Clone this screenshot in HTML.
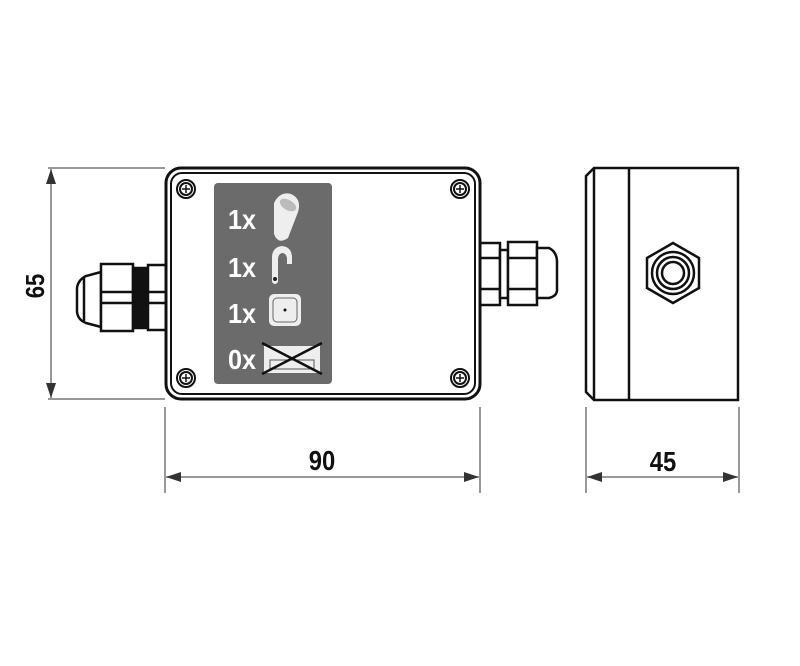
<!DOCTYPE html>
<html><head><style>
html,body{margin:0;padding:0;background:#fff;}
svg{display:block;}
text{font-family:"Liberation Sans",sans-serif;font-weight:bold;}
</style></head><body>
<svg width="800" height="666" viewBox="0 0 800 666" xmlns="http://www.w3.org/2000/svg">
<defs>
<marker id="a" viewBox="0 0 10 10" refX="10" refY="5" markerWidth="15" markerHeight="10" markerUnits="userSpaceOnUse" orient="auto-start-reverse" preserveAspectRatio="none"><path d="M0,0 L10,5 L0,10z" fill="#333"/></marker>
</defs>
<g stroke="#777" stroke-width="1.5" fill="none">
<line x1="48" y1="168" x2="165" y2="168"/>
<line x1="48" y1="399" x2="165" y2="399"/>
<line x1="165" y1="407" x2="165" y2="493"/>
<line x1="480" y1="407" x2="480" y2="493"/>
<line x1="586" y1="407" x2="586" y2="493"/>
<line x1="739" y1="407" x2="739" y2="493"/>
</g>
<g stroke="#777" stroke-width="1.5">
<line x1="51" y1="169" x2="51" y2="398" marker-start="url(#a)" marker-end="url(#a)"/>
<line x1="166" y1="477" x2="479" y2="477" marker-start="url(#a)" marker-end="url(#a)"/>
<line x1="587" y1="477" x2="738" y2="477" marker-start="url(#a)" marker-end="url(#a)"/>
</g>
<text x="0" y="0" font-size="26" fill="#111" transform="translate(44,286) rotate(-90) scale(0.85,1)" text-anchor="middle">65</text>
<text x="0" y="0" font-size="28" fill="#111" transform="translate(322,470) scale(0.85,1)" text-anchor="middle">90</text>
<text x="0" y="0" font-size="28" fill="#111" transform="translate(663,471) scale(0.85,1)" text-anchor="middle">45</text>

<g stroke="#111" stroke-width="2.5" fill="#fff">
<path d="M101,272 L86,276 Q78,280 77,288 L77,312 Q78,320 86,323 L101,327z"/>
<line x1="84" y1="278" x2="84" y2="321"/>
<rect x="101" y="264" width="32" height="67"/>
<line x1="101" y1="292" x2="133" y2="292"/><line x1="101" y1="303" x2="133" y2="303"/>
<rect x="133" y="268" width="15" height="60" fill="#111"/>
<rect x="148" y="265" width="18" height="65"/>
<line x1="148" y1="292" x2="166" y2="292"/><line x1="148" y1="303" x2="166" y2="303"/>
</g>
<g stroke="#111" stroke-width="2.5" fill="#fff">
<rect x="480" y="243" width="20" height="62"/>
<line x1="480" y1="258" x2="500" y2="258"/><line x1="480" y1="289" x2="500" y2="289"/>
<rect x="500" y="250" width="8" height="48"/>
<rect x="508" y="242" width="29" height="63"/>
<line x1="508" y1="258" x2="537" y2="258"/><line x1="508" y1="289" x2="537" y2="289"/>
<path d="M537,248 L549,248 Q557,252 557,262 L557,290 Q557,296 549,298 L537,298z"/>
</g>
<rect x="166" y="168" width="314" height="231" rx="15" fill="#fff" stroke="#111" stroke-width="3"/>
<rect x="171" y="173" width="304" height="221" rx="11" fill="none" stroke="#111" stroke-width="2"/>
<rect x="214" y="183" width="118" height="201" rx="4" fill="#6b6b6b"/>
<g fill="#fff" font-size="28">
<text transform="translate(228,229) scale(0.9,1)">1x</text>
<text transform="translate(228,277) scale(0.9,1)">1x</text>
<text transform="translate(228,323) scale(0.9,1)">1x</text>
<text transform="translate(228,369) scale(0.9,1)">0x</text>
</g>
<path d="M274,203 Q280,191 291,194 Q302,199 298,212 L288,238 Q278,245 274,234z" fill="#eee"/>
<ellipse cx="288" cy="205" rx="9" ry="5" fill="#bbb" transform="rotate(30 288 205)"/>
<path d="M272,256 Q273,247 282,246 Q292,247 292,258 L292,264 L287,264 L287,258 Q286,253 282,253 Q278,254 278,260 L278,282 Q275,286 272,282z" fill="#eee"/>
<circle cx="275" cy="279" r="2" fill="#222"/>
<rect x="269" y="294" width="32" height="32" rx="5" fill="#eee"/>
<rect x="273" y="298" width="24" height="24" rx="4" fill="none" stroke="#666" stroke-width="1"/>
<circle cx="285" cy="310" r="1.5" fill="#111"/>
<rect x="264" y="346" width="56" height="27" fill="#eee"/>
<rect x="270" y="360" width="44" height="9" fill="none" stroke="#555" stroke-width="1"/>
<line x1="262" y1="374" x2="322" y2="343" stroke="#111" stroke-width="2.5"/>
<line x1="262" y1="343" x2="322" y2="374" stroke="#111" stroke-width="2.5"/>
<g stroke="#111" stroke-width="2" fill="#fff">
<g transform="translate(186,189)"><circle r="9"/><circle r="6"/><path d="M-4,0H4M0,-4V4" stroke-width="1.5"/></g>
<g transform="translate(460,189)"><circle r="9"/><circle r="6"/><path d="M-4,0H4M0,-4V4" stroke-width="1.5"/></g>
<g transform="translate(186,378)"><circle r="9"/><circle r="6"/><path d="M-4,0H4M0,-4V4" stroke-width="1.5"/></g>
<g transform="translate(460,378)"><circle r="9"/><circle r="6"/><path d="M-4,0H4M0,-4V4" stroke-width="1.5"/></g>
</g>
<g stroke="#111" stroke-width="2.5" fill="#fff">
<path d="M594,168 L738,168 L738,400 L594,400 L586,392 L586,176z"/>
<line x1="594" y1="168" x2="594" y2="400"/>
<line x1="629" y1="168" x2="629" y2="400"/>
<polygon points="673,243 699,258 699,288 673,303 647,288 647,258"/>
<circle cx="673" cy="273" r="21"/>
<circle cx="673" cy="273" r="16"/>
<circle cx="673" cy="273" r="11"/>
</g>
</svg>
</body></html>
